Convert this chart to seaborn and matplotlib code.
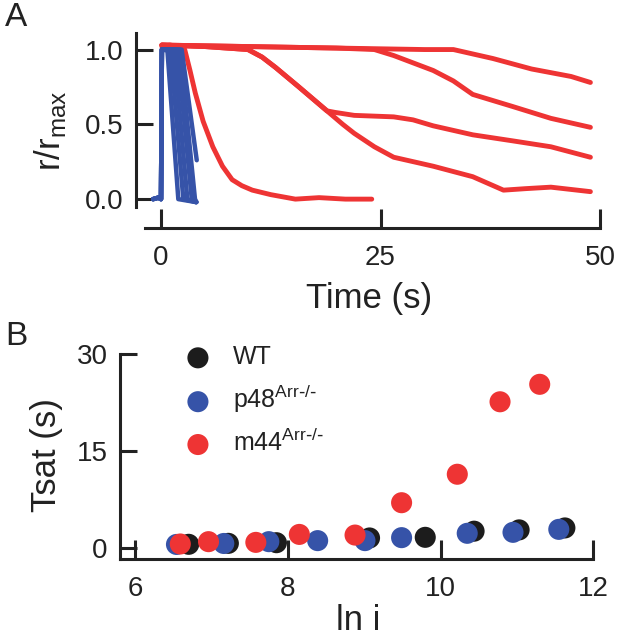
import pandas as pd
import matplotlib.pyplot as plt
import seaborn as sns

# Panel A: normalized responses r/rmax vs time (s)
red_traces = {
    "m44_1": ([0.1, 1.0, 2.0, 2.7, 3.3, 3.9, 4.8, 5.9, 7.0, 8.1, 9.2, 10.4, 12.5, 15.3, 18.0, 21.0, 24.0],
              [1.02, 1.03, 1.02, 1.0, 0.86, 0.71, 0.52, 0.35, 0.22, 0.13, 0.09, 0.06, 0.03, 0.0, 0.01, 0.0, 0.0]),
    "m44_2": ([0.1, 5.0, 9.9, 11.5, 13.05, 15.7, 17.5, 18.9, 20.7, 22.0, 24.3, 26.5, 31.0, 35.5, 39.0, 41.5, 44.4, 48.9],
              [1.03, 1.02, 1.0, 0.95, 0.88, 0.75, 0.66, 0.59, 0.50, 0.44, 0.35, 0.28, 0.22, 0.15, 0.06, 0.07, 0.08, 0.05]),
    "m44_3": ([0.1, 5.0, 9.9, 11.5, 13.05, 15.7, 17.5, 18.9, 19.8, 22.0, 26.5, 28.7, 31.0, 35.5, 40.0, 44.4, 48.9],
              [1.03, 1.02, 1.0, 0.95, 0.88, 0.75, 0.66, 0.59, 0.58, 0.56, 0.55, 0.53, 0.49, 0.43, 0.39, 0.35, 0.28]),
    "m44_4": ([0.1, 10.0, 20.0, 24.3, 26.5, 31.0, 33.3, 35.5, 40.0, 44.4, 48.9],
              [1.03, 1.02, 1.01, 1.0, 0.96, 0.86, 0.79, 0.70, 0.62, 0.54, 0.48]),
    "m44_5": ([0.1, 10.0, 20.0, 30.0, 33.3, 37.8, 42.2, 46.7, 48.9],
              [1.03, 1.02, 1.01, 1.0, 1.0, 0.94, 0.87, 0.82, 0.78]),
}
blue_traces = {
    "p48_1": ([-0.9, -0.3, 0.0, 0.1, 0.72, 1.97, 4.0], [0.0, 0.01, 0.0, 1.0, 1.0, 0.0, -0.02]),
    "p48_2": ([-0.9, -0.3, 0.0, 0.1, 1.1, 2.54, 4.0], [0.0, 0.01, 0.0, 1.0, 0.99, 0.0, -0.02]),
    "p48_3": ([-0.9, -0.3, 0.0, 0.1, 1.48, 3.0, 4.0], [0.0, 0.01, 0.0, 1.0, 1.0, 0.0, -0.02]),
    "p48_4": ([-0.9, -0.3, 0.0, 0.1, 1.86, 3.5, 4.0], [0.0, 0.01, 0.0, 1.0, 1.0, 0.0, -0.02]),
    "p48_5": ([-0.9, -0.3, 0.0, 0.1, 2.16, 3.87, 4.05], [0.0, 0.01, 0.0, 1.0, 1.0, 0.0, -0.02]),
    "p48_6": ([-0.9, -0.3, 0.0, 0.1, 2.35, 4.07], [0.0, 0.01, 0.0, 1.0, 1.0, 0.26]),
}

# Panel B: Tsat (s) vs ln i
wt_lni = [6.70, 7.22, 7.85, 9.07, 9.80, 10.44, 11.03, 11.63]
wt_tsat = [0.57, 0.72, 0.82, 1.55, 1.65, 2.6, 2.8, 3.1]
p48_lni = [6.54, 7.16, 7.75, 8.39, 9.01, 9.49, 10.35, 10.95, 11.55]
p48_tsat = [0.55, 0.70, 0.98, 1.14, 1.14, 1.6, 2.27, 2.42, 2.88]
m44_lni = [6.59, 6.96, 7.58, 8.15, 8.88, 9.49, 10.22, 10.78, 11.30]
m44_tsat = [0.62, 0.98, 0.87, 2.1, 2.0, 7.0, 11.4, 22.6, 25.3]

red = "#ee3434"
blue = "#3653a8"
black = "#1c1c1c"
ink = "#222222"

sns.set_style("ticks")
plt.rcParams["font.family"] = ["Liberation Sans Narrow", "Liberation Sans", "DejaVu Sans"]
plt.rcParams["text.color"] = ink
plt.rcParams["axes.labelcolor"] = ink
plt.rcParams["xtick.color"] = ink
plt.rcParams["ytick.color"] = ink

fig = plt.figure(figsize=(6.17, 6.39), dpi=100)
axA = fig.add_axes([0.2204, 0.6432, 0.757, 0.305])
axB = fig.add_axes([0.1945, 0.1252, 0.773, 0.324])

# ---- Panel A
for name, (t, v) in red_traces.items():
    sns.lineplot(x=t, y=v, ax=axA, color=red, lw=3.5, sort=False)
for name, (t, v) in blue_traces.items():
    sns.lineplot(x=t, y=v, ax=axA, color=blue, lw=3.2, sort=False)

axA.set_xlim(-2.85, 50.34)
axA.set_ylim(-0.193, 1.11)
axA.set_xticks([0, 25, 50])
axA.set_yticks([0.0, 0.5, 1.0])
axA.set_yticklabels(["0.0", "0.5", "1.0"])
axA.set_xlabel("Time (s)", fontsize=25, labelpad=8)
axA.set_ylabel(r"r/r$_{\mathregular{max}}$", fontsize=25, labelpad=12)

# ---- Panel B
sns.scatterplot(x=wt_lni, y=wt_tsat, ax=axB, color=black, s=230, edgecolor="none", label="WT")
sns.scatterplot(x=p48_lni, y=p48_tsat, ax=axB, color=blue, s=230, edgecolor="none",
                label=r"p48$^{\mathregular{Arr\text{-}/\text{-}}}$")
sns.scatterplot(x=m44_lni, y=m44_tsat, ax=axB, color=red, s=230, edgecolor="none",
                label=r"m44$^{\mathregular{Arr\text{-}/\text{-}}}$")

axB.set_xlim(5.8, 12.05)
axB.set_ylim(-1.7, 30.3)
axB.set_xticks([6, 8, 10, 12])
axB.set_yticks([0, 15, 30])
axB.set_xlabel("ln i", fontsize=25, labelpad=2)
axB.set_ylabel("Tsat (s)", fontsize=25, labelpad=10)
axB.legend(loc="upper left", bbox_to_anchor=(0.09, 1.08), frameon=False, fontsize=18,
           handletextpad=0.4, labelspacing=0.55, markerscale=1.0, borderaxespad=0)

for ax in (axA, axB):
    sns.despine(ax=ax)
    for s in ("left", "bottom"):
        ax.spines[s].set_linewidth(2.2)
        ax.spines[s].set_color(ink)
    ax.tick_params(direction="in", width=2.2, labelsize=20)
    ax.tick_params(axis="x", length=14, pad=12)
    ax.tick_params(axis="y", length=12, pad=9)

axA.spines["left"].set_bounds(-0.05, 1.11)
axA.spines["bottom"].set_bounds(-1.8, 50)
axB.spines["left"].set_bounds(-1.7, 30)
axB.spines["bottom"].set_bounds(5.8, 12)

fig.text(0.008, 0.972, "A", fontsize=24, va="center", ha="left")
fig.text(0.008, 0.473, "B", fontsize=24, va="center", ha="left")

fig.savefig("out.png", dpi=100)
